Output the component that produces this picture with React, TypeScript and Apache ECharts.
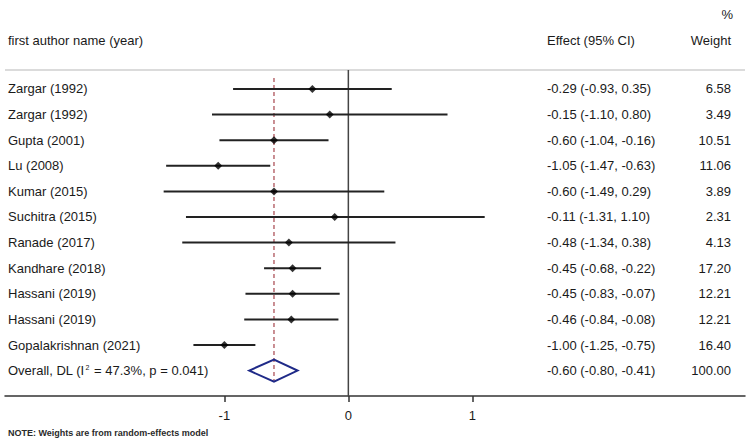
import React, { useEffect, useRef } from "react";
import * as echarts from "echarts";

// Study rows (top to bottom)
const studies = [
  "Zargar (1992)",
  "Zargar (1992)",
  "Gupta (2001)",
  "Lu (2008)",
  "Kumar (2015)",
  "Suchitra (2015)",
  "Ranade (2017)",
  "Kandhare (2018)",
  "Hassani (2019)",
  "Hassani (2019)",
  "Gopalakrishnan (2021)",
];
const effects = [-0.29, -0.15, -0.6, -1.05, -0.6, -0.11, -0.48, -0.45, -0.45, -0.46, -1.0];
const lowerCI = [-0.93, -1.1, -1.04, -1.47, -1.49, -1.31, -1.34, -0.68, -0.83, -0.84, -1.25];
const upperCI = [0.35, 0.8, -0.16, -0.63, 0.29, 1.1, 0.38, -0.22, -0.07, -0.08, -0.75];
const weights = [6.58, 3.49, 10.51, 11.06, 3.89, 2.31, 4.13, 17.2, 12.21, 12.21, 16.4];

// Pooled estimate
const overallLabel = "Overall, DL (I{sup|2} = 47.3%, p = 0.041)";
const overallEffect = -0.6;
const overallLower = -0.8;
const overallUpper = -0.41;
const overallWeight = 100.0;

const xTicks = [-1, 0, 1];

const FONT = "'Liberation Sans', Arial, Helvetica, sans-serif";
const TEXT = "#1a1a1a";
const Y_MIN = -0.742;
const Y_MAX = 11.992;

const fmt = (v: number) => v.toFixed(2);
const ciText = (e: number, lo: number, hi: number) => `${fmt(e)} (${fmt(lo)}, ${fmt(hi)})`;

export default function App() {
  const ref = useRef<HTMLDivElement>(null);

  useEffect(() => {
    if (!ref.current) return;
    const chart = echarts.init(ref.current, undefined, { renderer: "svg" });
    const overallRow = studies.length;

    const rowNames = [...studies, overallLabel];
    const rowEffects = [
      ...effects.map((e, i) => ciText(e, lowerCI[i], upperCI[i])),
      ciText(overallEffect, overallLower, overallUpper),
    ];
    const rowWeights = [...weights, overallWeight].map(fmt);

    const textStyle = (extra: any) => ({
      fill: TEXT,
      fontSize: 13,
      fontFamily: FONT,
      verticalAlign: "middle",
      textVerticalAlign: "middle",
      ...extra,
    });

    chart.setOption({
      animation: false,
      backgroundColor: "#ffffff",
      grid: { left: 5, right: 5, top: 70, bottom: 47 },
      xAxis: {
        type: "value",
        min: -2.77,
        max: 3.2,
        splitLine: { show: false },
        axisLine: { show: true, onZero: false, lineStyle: { color: "#333", width: 1.5 } },
        axisTick: {
          show: true,
          customValues: xTicks,
          length: 6,
          lineStyle: { color: "#333", width: 1.5 },
        },
        axisLabel: {
          customValues: xTicks,
          fontSize: 13,
          fontFamily: FONT,
          color: TEXT,
          margin: 13,
          formatter: (v: number) => String(v),
        },
      },
      yAxis: { type: "value", min: Y_MIN, max: Y_MAX, inverse: true, show: false },
      graphic: [
        {
          type: "line",
          shape: { x1: 5, y1: 70, x2: 745, y2: 70 },
          style: { stroke: "#cfcfcf", lineWidth: 1.5 },
        },
        {
          type: "text",
          x: 8,
          y: 40,
          style: textStyle({ text: "first author name (year)", textAlign: "left", align: "left" }),
        },
        {
          type: "text",
          x: 547,
          y: 40,
          style: textStyle({ text: "Effect (95% CI)", textAlign: "left", align: "left" }),
        },
        {
          type: "text",
          x: 731,
          y: 40,
          style: textStyle({ text: "Weight", textAlign: "right", align: "right" }),
        },
        {
          type: "text",
          x: 733,
          y: 14,
          style: textStyle({ text: "%", textAlign: "right", align: "right" }),
        },
        {
          type: "text",
          x: 8,
          y: 433,
          style: textStyle({
            text: "NOTE: Weights are from random-effects model",
            fontSize: 9,
            fontWeight: "bold",
            fill: "#2a2a2a",
            textAlign: "left",
            align: "left",
          }),
        },
      ],
      series: [
        {
          // vertical line of no effect
          type: "custom",
          silent: true,
          z: 1,
          data: [[0]],
          renderItem: (_p: any, api: any) => {
            const a = api.coord([api.value(0), Y_MIN]);
            const b = api.coord([api.value(0), Y_MAX]);
            return {
              type: "line",
              shape: { x1: a[0], y1: a[1], x2: b[0], y2: b[1] },
              style: { stroke: "#444", lineWidth: 1.5 },
            };
          },
        },
        {
          // dashed line at the pooled estimate
          type: "custom",
          silent: true,
          z: 2,
          data: [[overallEffect]],
          renderItem: (_p: any, api: any) => {
            const a = api.coord([api.value(0), -0.43]);
            const b = api.coord([api.value(0), overallRow + 0.45]);
            return {
              type: "line",
              shape: { x1: a[0], y1: a[1], x2: b[0], y2: b[1] },
              style: { stroke: "#b86a70", lineWidth: 1.5, lineDash: [4, 3] },
            };
          },
        },
        {
          // confidence intervals
          type: "custom",
          silent: true,
          z: 3,
          data: effects.map((_, i) => [lowerCI[i], upperCI[i], i]),
          renderItem: (_p: any, api: any) => {
            const a = api.coord([api.value(0), api.value(2)]);
            const b = api.coord([api.value(1), api.value(2)]);
            return {
              type: "line",
              shape: { x1: a[0], y1: a[1], x2: b[0], y2: b[1] },
              style: { stroke: "#222", lineWidth: 2 },
            };
          },
        },
        {
          // point estimates
          type: "scatter",
          silent: true,
          z: 4,
          symbol: "diamond",
          symbolSize: 8,
          itemStyle: { color: "#000" },
          data: effects.map((e, i) => [e, i]),
        },
        {
          // pooled estimate diamond
          type: "custom",
          silent: true,
          z: 4,
          data: [[overallLower, overallEffect, overallUpper, overallRow]],
          renderItem: (_p: any, api: any) => {
            const row = api.value(3);
            const h = 0.43;
            const pts = [
              api.coord([api.value(0), row]),
              api.coord([api.value(1), row - h]),
              api.coord([api.value(2), row]),
              api.coord([api.value(1), row + h]),
            ];
            return {
              type: "polygon",
              shape: { points: pts },
              style: { fill: "none", stroke: "#1f2a88", lineWidth: 2 },
            };
          },
        },
        {
          // row texts: study, effect (CI), weight
          type: "custom",
          silent: true,
          z: 5,
          data: rowNames.map((_, i) => [0, i]),
          renderItem: (params: any, api: any) => {
            const i = params.dataIndex;
            const y = api.coord([0, api.value(1)])[1];
            return {
              type: "group",
              children: [
                {
                  type: "text",
                  x: 8,
                  y,
                  style: textStyle({
                    text: rowNames[i],
                    textAlign: "left",
                    align: "left",
                    rich: {
                      sup: { fontSize: 7, fontFamily: FONT, fill: TEXT, verticalAlign: "top", padding: [0, 1, 0, 1] },
                    },
                  }),
                },
                {
                  type: "text",
                  x: 547,
                  y,
                  style: textStyle({ text: rowEffects[i], textAlign: "left", align: "left" }),
                },
                {
                  type: "text",
                  x: 731,
                  y,
                  style: textStyle({ text: rowWeights[i], textAlign: "right", align: "right" }),
                },
              ],
            };
          },
        },
      ],
    });

    return () => chart.dispose();
  }, []);

  return (
    <div
      ref={ref}
      style={{ position: "fixed", left: 0, top: 0, width: 750, height: 443, background: "#fff" }}
    />
  );
}
